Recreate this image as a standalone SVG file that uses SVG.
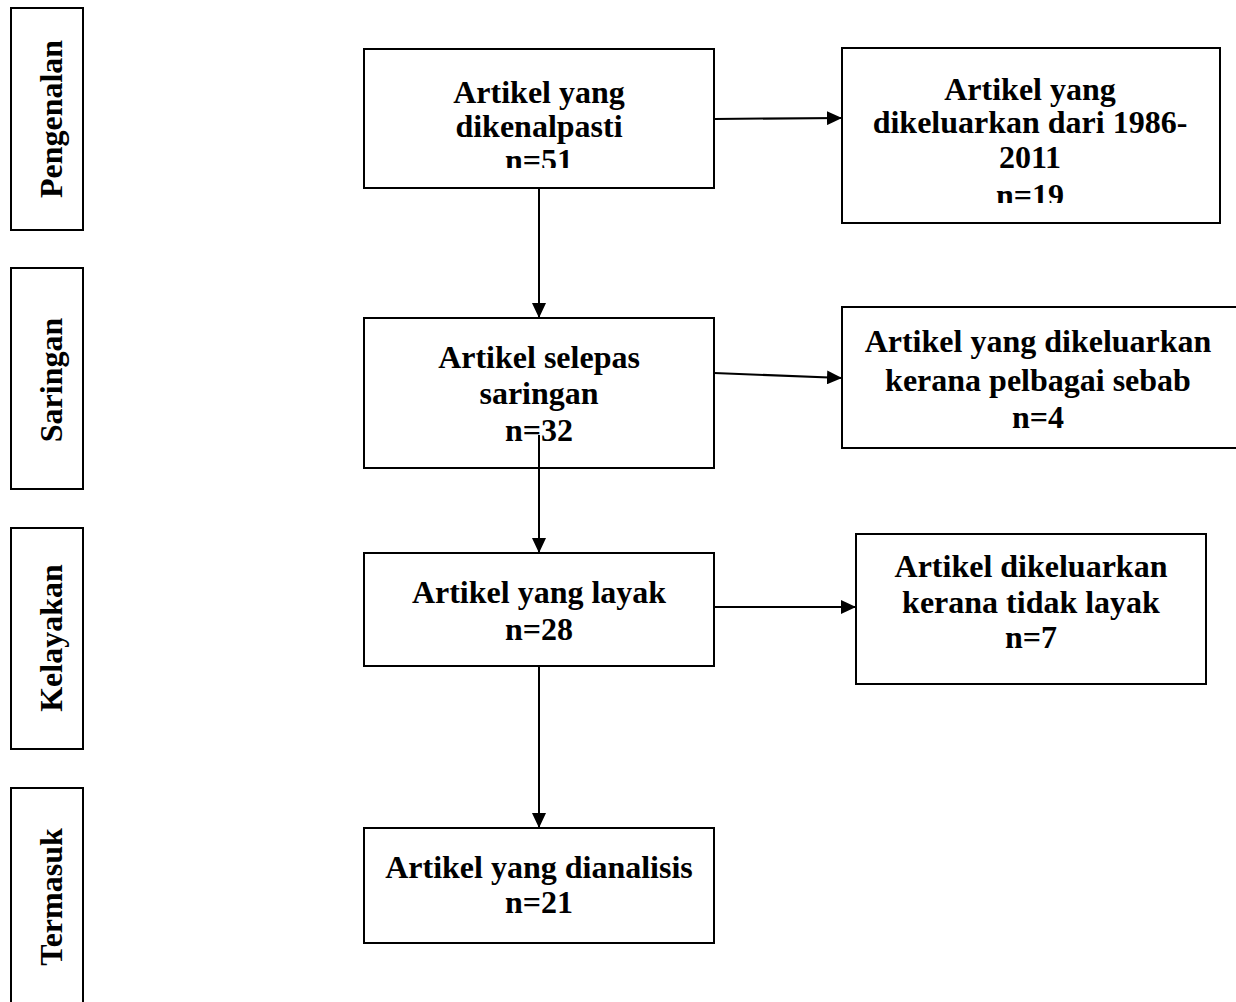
<svg xmlns="http://www.w3.org/2000/svg" width="1236" height="1002" viewBox="0 0 1236 1002">
<style>
.box{fill:#fff;stroke:#000;stroke-width:2}
.t{font-family:"Liberation Serif","Times New Roman",serif;font-weight:bold;font-size:32px;fill:#000;text-anchor:middle}
.c{stroke:#000;stroke-width:2;fill:none}
</style>
<defs>
<marker id="ah" markerUnits="userSpaceOnUse" markerWidth="16" markerHeight="14" refX="15" refY="7" orient="auto">
<path d="M0,0 L15,7 L0,14 z" fill="#000"/>
</marker>
<clipPath id="clip1"><rect x="364" y="49" width="350" height="119"/></clipPath>
<clipPath id="clip2"><rect x="842" y="48" width="378" height="155"/></clipPath>
</defs>

<g id="stage-pengenalan">
<rect class="box" x="11" y="8" width="72" height="222"/>
<text class="t" transform="translate(62,119) rotate(-90)">Pengenalan</text>
</g>
<g id="stage-saringan">
<rect class="box" x="11" y="268" width="72" height="221"/>
<text class="t" transform="translate(62,380) rotate(-90)">Saringan</text>
</g>
<g id="stage-kelayakan">
<rect class="box" x="11" y="528" width="72" height="221"/>
<text class="t" transform="translate(62,638) rotate(-90)">Kelayakan</text>
</g>
<g id="stage-termasuk">
<rect class="box" x="11" y="788" width="72" height="222"/>
<text class="t" transform="translate(62,897) rotate(-90)">Termasuk</text>
</g>

<g id="connectors">
<line class="c" x1="714" y1="119" x2="842" y2="118" marker-end="url(#ah)"/>
<line class="c" x1="539" y1="188" x2="539" y2="318" marker-end="url(#ah)"/>
<line class="c" x1="714" y1="373" x2="842" y2="378" marker-end="url(#ah)"/>
<line class="c" x1="714" y1="607" x2="856" y2="607" marker-end="url(#ah)"/>
<line class="c" x1="539" y1="666" x2="539" y2="828" marker-end="url(#ah)"/>
</g>

<g id="n1">
<rect class="box" x="364" y="49" width="350" height="139"/>
<g clip-path="url(#clip1)">
<text class="t" x="539" y="103">Artikel yang</text>
<text class="t" x="539" y="137">dikenalpasti</text>
<text class="t" x="539" y="171">n=51</text>
</g>
</g>
<g id="n1x">
<rect class="box" x="842" y="48" width="378" height="175"/>
<g clip-path="url(#clip2)">
<text class="t" x="1030" y="100">Artikel yang</text>
<text class="t" x="1030" y="133">dikeluarkan dari 1986-</text>
<text class="t" x="1030" y="168">2011</text>
<text class="t" x="1030" y="206">n=19</text>
</g>
</g>
<g id="n2">
<rect class="box" x="364" y="318" width="350" height="150"/>
<text class="t" x="539" y="368">Artikel selepas</text>
<text class="t" x="539" y="404">saringan</text>
<text class="t" x="539" y="441">n=32</text>
</g>
<g id="n2x">
<rect class="box" x="842" y="307" width="410" height="141"/>
<text class="t" x="1038" y="352">Artikel yang dikeluarkan</text>
<text class="t" x="1038" y="391">kerana pelbagai sebab</text>
<text class="t" x="1038" y="428">n=4</text>
</g>
<g id="n3">
<rect class="box" x="364" y="553" width="350" height="113"/>
<text class="t" x="539" y="603">Artikel yang layak</text>
<text class="t" x="539" y="640">n=28</text>
</g>
<g id="n3x">
<rect class="box" x="856" y="534" width="350" height="150"/>
<text class="t" x="1031" y="577">Artikel dikeluarkan</text>
<text class="t" x="1031" y="613">kerana tidak layak</text>
<text class="t" x="1031" y="648">n=7</text>
</g>
<g id="n4">
<rect class="box" x="364" y="828" width="350" height="115"/>
<text class="t" x="539" y="878">Artikel yang dianalisis</text>
<text class="t" x="539" y="913">n=21</text>
</g>

<g id="connector-overlay">
<line class="c" x1="539" y1="435" x2="539" y2="553" marker-end="url(#ah)"/>
</g>
</svg>
